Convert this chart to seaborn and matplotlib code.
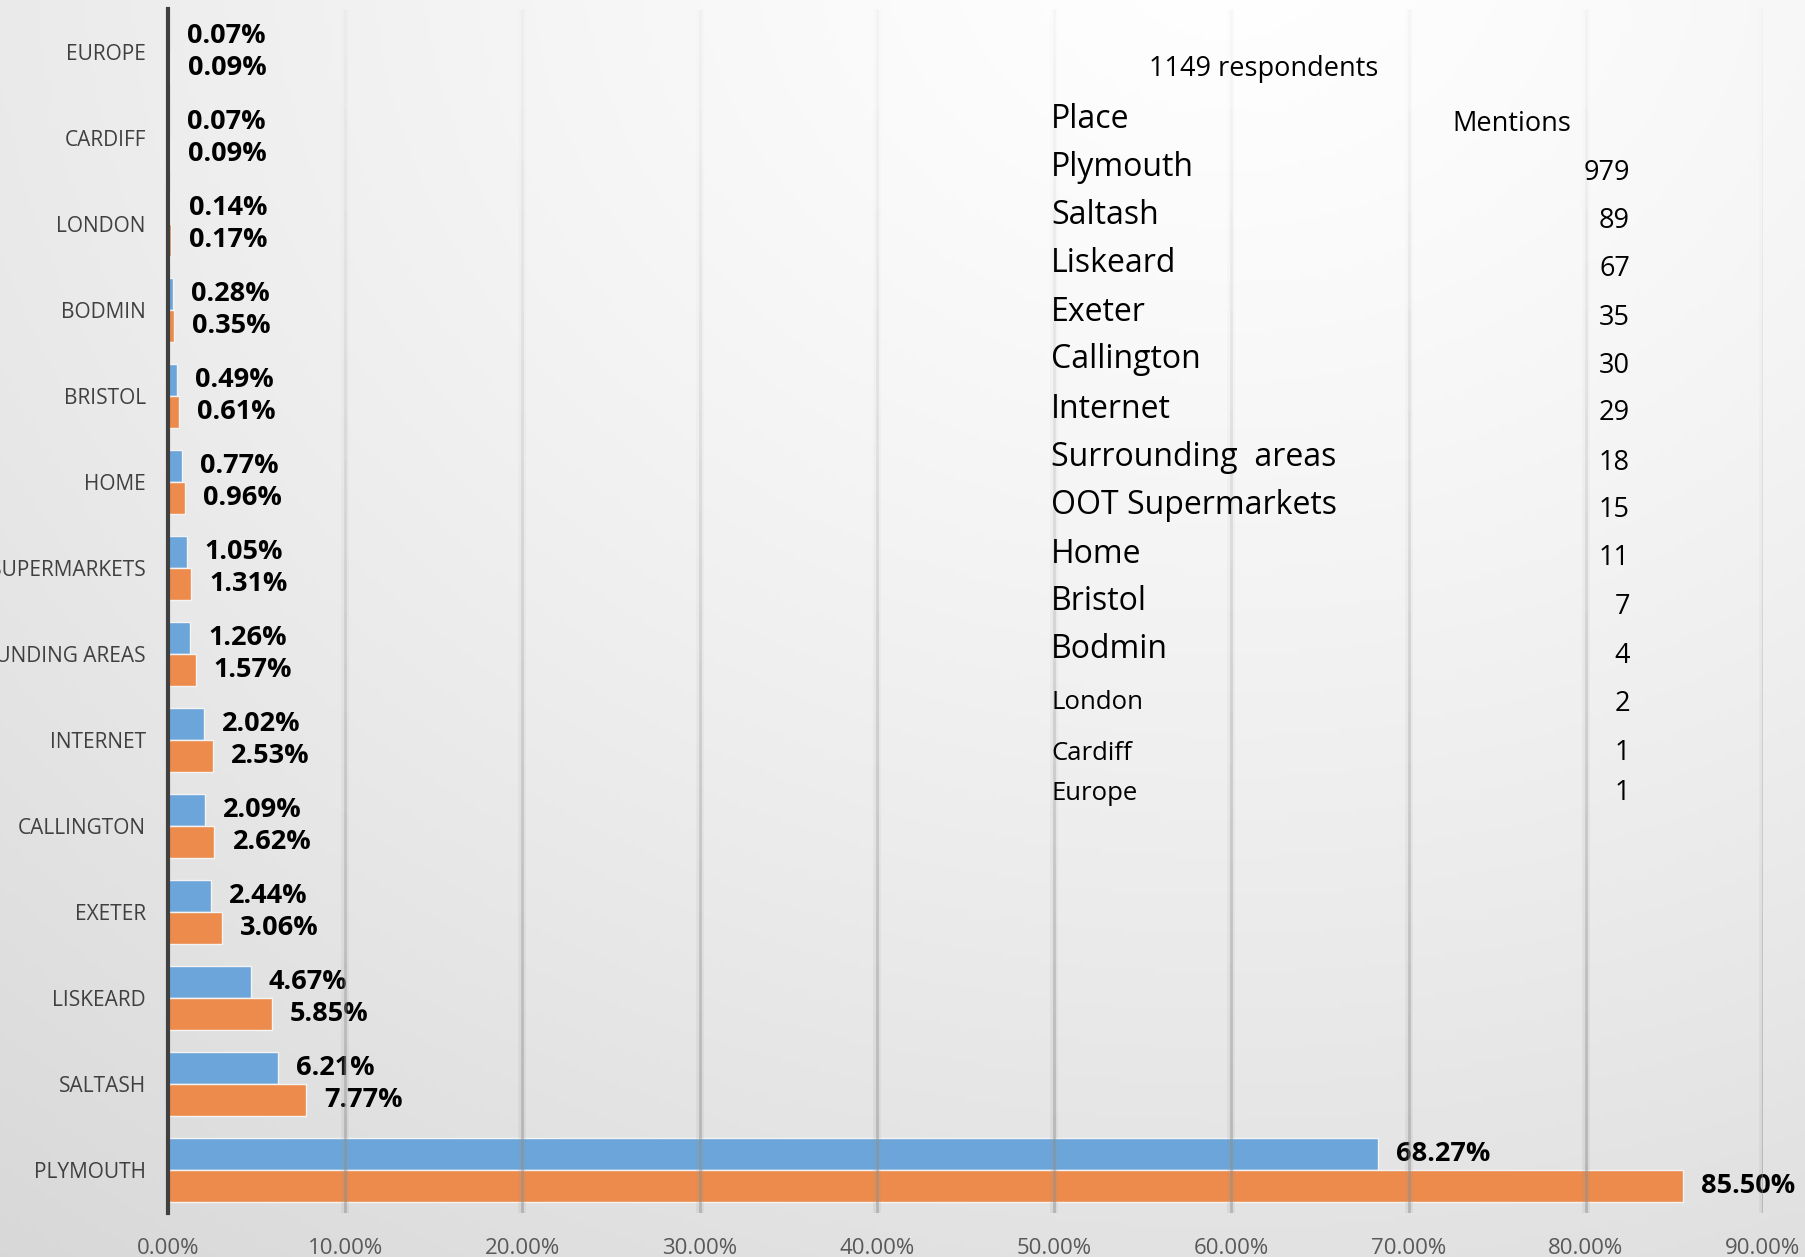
import numpy as np
import pandas as pd
import matplotlib
matplotlib.use("Agg")
import matplotlib.pyplot as plt
import seaborn as sns

# ---------------- data ----------------
places = ["EUROPE", "CARDIFF", "LONDON", "BODMIN", "BRISTOL", "HOME",
          "OOT SUPERMARKETS", "SURROUNDING AREAS", "INTERNET", "CALLINGTON",
          "EXETER", "LISKEARD", "SALTASH", "PLYMOUTH"]
share_of_mentions = [0.07, 0.07, 0.14, 0.28, 0.49, 0.77, 1.05, 1.26, 2.02,
                     2.09, 2.44, 4.67, 6.21, 68.27]
share_of_respondents = [0.09, 0.09, 0.17, 0.35, 0.61, 0.96, 1.31, 1.57, 2.53,
                        2.62, 3.06, 5.85, 7.77, 85.50]
series_names = ["% of mentions", "% of respondents"]
x_ticks = [0, 10, 20, 30, 40, 50, 60, 70, 80, 90]

table_title = "1149 respondents"
table_places = ["Plymouth", "Saltash", "Liskeard", "Exeter", "Callington",
                "Internet", "Surrounding  areas", "OOT Supermarkets", "Home",
                "Bristol", "Bodmin", "London", "Cardiff", "Europe"]
table_mentions = [979, 89, 67, 35, 30, 29, 18, 15, 11, 7, 4, 2, 1, 1]

df = pd.DataFrame({
    "place": places * 2,
    "pct": share_of_mentions + share_of_respondents,
    "series": [series_names[0]] * len(places) + [series_names[1]] * len(places),
})

# ---------------- style ----------------
sns.set_theme(style="white")
plt.rcParams["font.family"] = ["Open Sans", "DejaVu Sans"]

W, H = 1805, 1257
fig = plt.figure(figsize=(W / 100, H / 100), dpi=100)

# background gradient
bg = fig.add_axes([0, 0, 1, 1], zorder=-10)
gx = np.linspace(0, 1, 361)
gy = np.linspace(0, 1, 252)
GX, GY = np.meshgrid(gx, gy)
d = np.sqrt(((GX - 0.68) * 1.2) ** 2 + (GY + 0.05) ** 2)
v = np.clip(255 - 27 * d ** 1.3, 0, 255) / 255.0
img = np.dstack([v, v, v])
bg.imshow(img, extent=[0, 1, 0, 1], aspect="auto", origin="upper")
bg.axis("off")

ax_left, ax_right = 168 / W, 1763 / W
ax_top, ax_bot = 1 - 9 / H, 1 - 1213 / H
ax = fig.add_axes([ax_left, ax_bot, ax_right - ax_left, ax_top - ax_bot])
ax.set_facecolor("none")

blue, orange = "#6CA5D9", "#EC8B4B"
sns.barplot(data=df, y="place", x="pct", hue="series", order=places,
            hue_order=series_names, palette=[blue, orange], orient="h",
            width=0.75, gap=0, saturation=1, edgecolor="#f4f4f4",
            linewidth=1.0, ax=ax, legend=False, zorder=3)

for cont, vals in zip(ax.containers, [share_of_mentions, share_of_respondents]):
    ax.bar_label(cont, labels=[f"{val:.2f}%" for val in vals], padding=13,
                 fontsize=19.5, fontweight="bold", color="black")

ax.set_xlim(0, 90)
ax.set_ylim(len(places) - 0.5, -0.5)
ax.set_xticks(x_ticks)
ax.set_xticklabels([f"{t:.2f}%" for t in x_ticks])
ax.tick_params(axis="x", length=0, pad=18, labelsize=16, labelcolor="#595959")
ax.tick_params(axis="y", length=0, pad=16, labelsize=15, labelcolor="#404040")
ax.set_xlabel("")
ax.set_ylabel("")

for s in ["top", "right", "bottom"]:
    ax.spines[s].set_visible(False)
ax.spines["left"].set_color("#404040")
ax.spines["left"].set_linewidth(3)
ax.spines["left"].set_zorder(6)

# soft shadowed gridlines, darker towards the bottom
nseg = 24
for t in x_ticks[1:]:
    for i in range(nseg):
        a = 0.04 + 0.42 * (1 - (i + 0.5) / nseg) ** 1.2
        ax.axvline(t, ymin=i / nseg, ymax=(i + 1) / nseg, color="#9a9a9a",
                   lw=5.5, alpha=a * 0.35, zorder=4, solid_capstyle="butt")
        ax.axvline(t, ymin=i / nseg, ymax=(i + 1) / nseg, color="#8c8c8c",
                   lw=2.0, alpha=a, zorder=4, solid_capstyle="butt")

# ---------------- text table ----------------
def fx(px):
    return px / W


def fy(py):
    return 1 - py / H


fig.text(fx(1264), fy(69), table_title, ha="center", va="center",
         fontsize=19.5, color="black")
fig.text(fx(1051), fy(119), "Place", ha="left", va="center", fontsize=23,
         color="black")
fig.text(fx(1512), fy(124), "Mentions", ha="center", va="center",
         fontsize=19.5, color="black")

name_y = [167, 215, 264, 312, 360, 409, 457, 505, 554, 602, 650, 703, 753, 794]
num_y = [173, 221, 269, 318, 366, 413, 463, 510, 558, 607, 656, 704, 753, 793]
for i, (nm, cnt) in enumerate(zip(table_places, table_mentions)):
    fs = 23 if i < 11 else 18.5
    fig.text(fx(1051), fy(name_y[i]), nm, ha="left", va="center",
             fontsize=fs, color="black")
    fig.text(fx(1630), fy(num_y[i]), str(cnt), ha="right", va="center",
             fontsize=19.5, color="black")

fig.savefig("out.png", dpi=100)
